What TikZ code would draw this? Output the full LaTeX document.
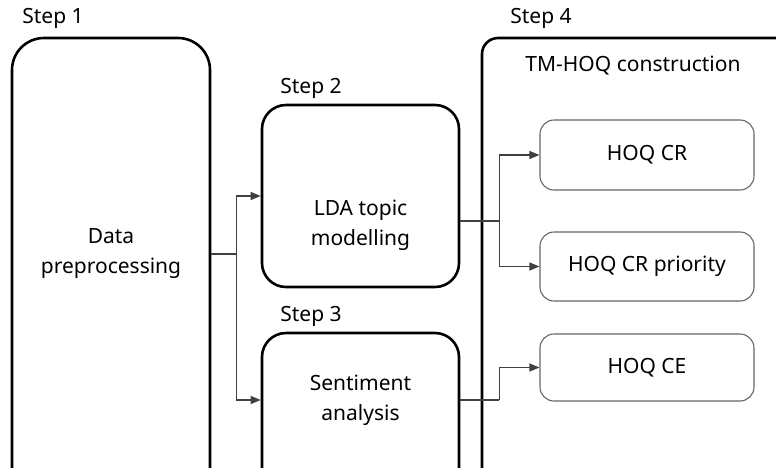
\documentclass[tikz,border=0pt]{standalone}
\usepackage{fontspec}
\setmainfont{Noto Sans}
\usetikzlibrary{arrows.meta}

\begin{document}
\begin{tikzpicture}[x=1pt,y=-1pt,
	font=\fontsize{21}{30}\selectfont,
	bigbox/.style={draw, line width=2.6pt, rounded corners=32pt, inner sep=0pt},
	midbox/.style={draw, line width=2.6pt, rounded corners=24pt, inner sep=0pt},
	hoqbox/.style={draw=black!60, line width=1.1pt, rounded corners=14pt,
		minimum width=214pt, inner sep=0pt},
	conn/.style={draw=black!75, line width=1.2pt},
	arr/.style={conn, -{Triangle[length=10pt,width=8pt]}},
	]
	\useasboundingbox (0,0) rectangle (776,467);
	\clip (0,0) rectangle (776,467);
	
	% step boxes
	\node[bigbox, minimum width=198pt, minimum height=502pt] (s1) at (111,289) {};
	\node[midbox, minimum width=197pt, minimum height=182pt] (s2) at (360.5,196) {};
	\node[midbox, minimum width=197pt, minimum height=227pt] (s3) at (360.5,446.5) {};
	\node[bigbox, rounded corners=16pt, minimum width=338pt, minimum height=502pt] (s4) at (651,289) {};
	
	\node (l1) at (53,18) {Step 1};
	\node (l2) at (311,88) {Step 2};
	\node (l3) at (311,316) {Step 3};
	\node (l4) at (541,18) {Step 4};
	\node (l5) at (633,66) {TM-HOQ construction};
	
	\node[align=center] (t1) at (111,254) {Data\\preprocessing};
	\node[align=center] (t2) at (360.5,225) {LDA topic\\modelling};
	\node[align=center] (t3) at (360.5,400) {Sentiment\\analysis};
	
	% HOQ parts
	\node[hoqbox, minimum height=70pt] (c1) at (647,155) {HOQ CR};
	\node[hoqbox, minimum height=69pt] (c2) at (647,266.5) {HOQ CR priority};
	\node[hoqbox, minimum height=67pt] (c3) at (647,367.5) {HOQ CE};
	
	% connectors
	\draw[conn] (t1 -| s1.east) -- ++(25,0) coordinate (j1);
	\draw[arr] (j1) |- (s2.west);
	\draw[arr] (j1) |- (s3.west |- t3);
	\draw[conn] ([yshift=-25pt]s2.east) -- ++(39,0) coordinate (j2);
	\draw[arr] (j2) |- (c1.west);
	\draw[arr] (j2) |- (c2.west);
	\draw[conn] (s3.east |- t3) -- ++(39,0) coordinate (j3);
	\draw[arr] (j3) |- (c3.west);
\end{tikzpicture}
\end{document}
